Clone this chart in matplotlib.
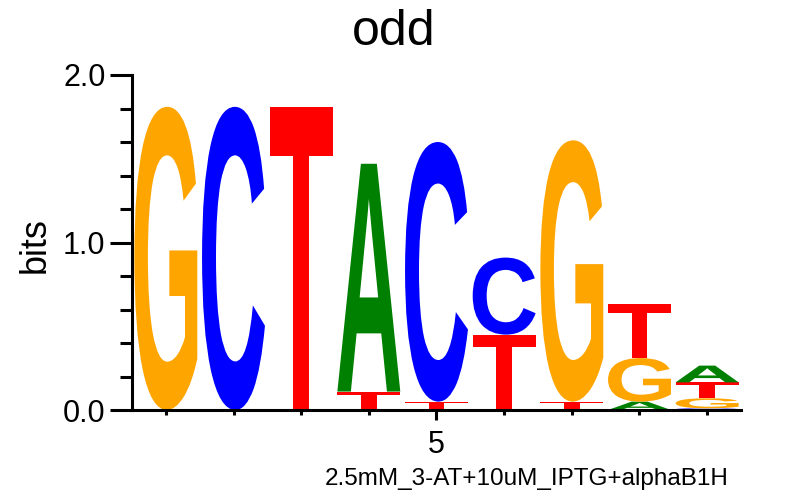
import matplotlib
matplotlib.use('Agg')
from matplotlib import pyplot as plt
from matplotlib.textpath import TextPath
from matplotlib.patches import PathPatch
from matplotlib.font_manager import FontProperties
from matplotlib.transforms import Affine2D

plt.rcParams['font.family'] = ['Liberation Sans', 'DejaVu Sans']

# information content (bits) per base at each position
positions = [1, 2, 3, 4, 5, 6, 7, 8, 9]
A = [0.00, 0.00, 0.00, 1.36, 0.00, 0.00, 0.00, 0.05, 0.10]
C = [0.00, 1.81, 0.00, 0.00, 1.55, 0.46, 0.00, 0.00, 0.01]
G = [1.81, 0.00, 0.00, 0.00, 0.00, 0.00, 1.56, 0.26, 0.06]
T = [0.00, 0.00, 1.81, 0.11, 0.05, 0.45, 0.05, 0.32, 0.095]

colors = {'A': '#008000', 'C': '#0000FF', 'G': '#FFA500', 'T': '#FF0000'}

title = 'odd'
xlab = '2.5mM_3-AT+10uM_IPTG+alphaB1H'

fp = FontProperties(family='Liberation Sans', weight='bold')


def draw_letter(ax, letter, x, y0, h, w=0.93):
    tp = TextPath((0, 0), letter, size=1, prop=fp)
    bb = tp.get_extents()
    tr = (Affine2D().translate(-bb.x0, -bb.y0)
          .scale(w / bb.width, h / bb.height)
          .translate(x - w / 2, y0))
    ax.add_patch(PathPatch(tr.transform_path(tp), fc=colors[letter], lw=0))


fig = plt.figure(figsize=(7.88, 4.96), dpi=100)
ax = fig.add_axes([132 / 788, 1 - 410 / 496, 609 / 788, 335 / 496])

for i, p in enumerate(positions):
    stack = sorted([('A', A[i]), ('C', C[i]), ('G', G[i]), ('T', T[i])], key=lambda t: t[1])
    y = 0
    for letter, h in stack:
        if h > 0:
            draw_letter(ax, letter, p, y, h)
        y += h

ax.set_xlim(0.5, 9.5)
ax.set_ylim(0, 2.0)

ax.spines['top'].set_visible(False)
ax.spines['right'].set_visible(False)
ax.spines['left'].set_linewidth(2.2)
ax.spines['bottom'].set_linewidth(2.2)

ax.set_yticks([0, 1, 2])
ax.set_yticklabels(['0.0', '1.0', '2.0'])
ax.set_yticks([0.2, 0.4, 0.6, 0.8, 1.2, 1.4, 1.6, 1.8], minor=True)
ax.set_xticks([5])
ax.set_xticklabels(['5'])
ax.set_xticks([1, 2, 3, 4, 6, 7, 8, 9], minor=True)

ax.tick_params(axis='y', which='major', length=16, width=2.2, labelsize=22, pad=3)
ax.tick_params(axis='y', which='minor', length=8.5, width=2.2)
ax.tick_params(axis='x', which='major', length=7.5, width=2.2, labelsize=22, pad=7)
ax.tick_params(axis='x', which='minor', length=3.5, width=2.2)

fig.text(35 / 788, 1 - 245 / 496, 'bits', rotation=90, fontsize=26, ha='center', va='center')
fig.text(0.5, 1 - 32 / 496, title, fontsize=36, ha='center', va='center')
fig.text(527 / 788, 1 - 479 / 496, xlab, fontsize=17.5, ha='center', va='center')

plt.savefig('out.png', dpi=100)
